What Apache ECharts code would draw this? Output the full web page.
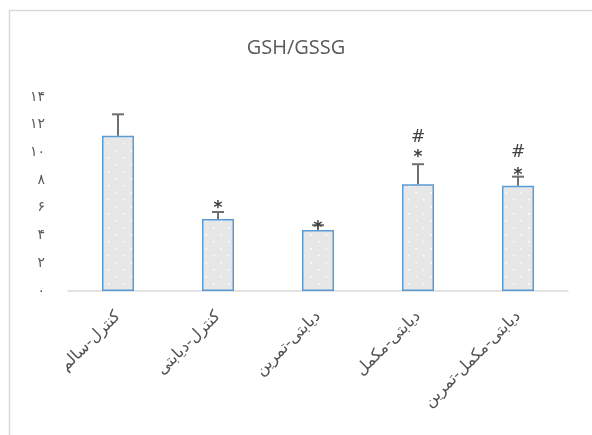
<!DOCTYPE html>
<html><head><meta charset="utf-8">
<script src="https://cdn.jsdelivr.net/npm/echarts@6/dist/echarts.min.js"></script>
<style>html,body{margin:0;padding:0;background:#fff}#c{width:592px;height:435px}</style>
</head><body><div id="c"></div>
<script>
const categories = ['کنترل-سالم', 'کنترل-دیابتی', 'دیابتی-تمرین', 'دیابتی-مکمل', 'دیابتی-مکمل-تمرین'];
const means = [11.2, 5.2, 4.4, 7.7, 7.6];
const errUpper = [12.75, 5.7, 4.75, 9.15, 8.25];
const starAt = [null, 6.3, 4.9, 10.0, 8.7];
const hashAt = [null, null, null, 11.1, 10.0];
const yTickLabels = ['۰', '۲', '۴', '۶', '۸', '۱۰', '۱۲', '۱۴'];

// dotted fill pattern
const pc = document.createElement('canvas');
pc.width = 15; pc.height = 14;
const g = pc.getContext('2d');
g.fillStyle = '#e7e7e7'; g.fillRect(0, 0, 15, 14);
g.fillStyle = '#ffffff';
g.fillRect(3, 3, 1.5, 1.5);
g.fillRect(10.5, 10, 1.5, 1.5);

const chart = echarts.init(document.getElementById('c'), null, {renderer: 'canvas'});
chart.setOption({
  animation: false,
  backgroundColor: '#fff',
  title: {
    text: 'GSH/GSSG', left: 'center', top: 33,
    textStyle: {color: '#595959', fontSize: 20, fontWeight: 'normal', fontFamily: '"Open Sans", "DejaVu Sans", sans-serif'}
  },
  graphic: [{
    type: 'rect', silent: true, z: -1,
    shape: {x: 9.5, y: 10.5, width: 700, height: 600},
    style: {fill: 'none', stroke: '#d9d9d9', lineWidth: 1.5}
  }],
  grid: {left: 68, right: 24, top: 97, bottom: 144},
  xAxis: {
    type: 'category', data: categories,
    axisLine: {lineStyle: {color: '#d9d9d9', width: 1.5}},
    axisTick: {show: false},
    axisLabel: {rotate: 45, interval: 0, margin: 23, color: '#505050', fontSize: 16, fontFamily: '"DejaVu Sans", sans-serif'}
  },
  yAxis: {
    type: 'value', min: 0, max: 14, interval: 2,
    axisLine: {show: false}, axisTick: {show: false}, splitLine: {show: false},
    axisLabel: {
      color: '#595959', fontSize: 14, margin: 23, fontFamily: '"DejaVu Sans", sans-serif',
      formatter: v => yTickLabels[Math.round(v / 2)]
    }
  },
  series: [
    {
      type: 'bar', data: means, barWidth: '32%',
      itemStyle: {color: {image: pc, repeat: 'repeat'}, borderColor: '#5b9bd5', borderWidth: 1.5}
    },
    {
      type: 'custom', z: 5,
      data: errUpper.map((u, i) => [i, means[i], u]),
      renderItem: function (params, api) {
        const i = api.value(0);
        const lo = api.coord([i, api.value(1)]);
        const hi = api.coord([i, api.value(2)]);
        const st = {stroke: '#6f6f6f', lineWidth: 2};
        return {type: 'group', children: [
          {type: 'line', shape: {x1: lo[0], y1: lo[1], x2: hi[0], y2: hi[1]}, style: st},
          {type: 'line', shape: {x1: hi[0] - 6, y1: hi[1], x2: hi[0] + 6, y2: hi[1]}, style: st}
        ]};
      }
    },
    {
      type: 'custom', z: 6,
      data: categories.map((c, i) => [i, starAt[i] == null ? 0 : starAt[i], hashAt[i] == null ? 0 : hashAt[i]]),
      renderItem: function (params, api) {
        const i = api.value(0);
        const ch = [];
        if (starAt[i] != null) {
          const p = api.coord([i, starAt[i]]);
          ch.push({type: 'text', style: {text: '*', x: p[0], y: p[1] + 5, align: 'center', verticalAlign: 'middle', fill: '#404040', font: 'bold 17px "DejaVu Sans", sans-serif'}});
        }
        if (hashAt[i] != null) {
          const p = api.coord([i, hashAt[i]]);
          ch.push({type: 'text', style: {text: '#', x: p[0], y: p[1], align: 'center', verticalAlign: 'middle', fill: '#404040', font: '17px "DejaVu Sans", sans-serif'}});
        }
        return {type: 'group', children: ch};
      }
    }
  ]
});
</script>
</body></html>
